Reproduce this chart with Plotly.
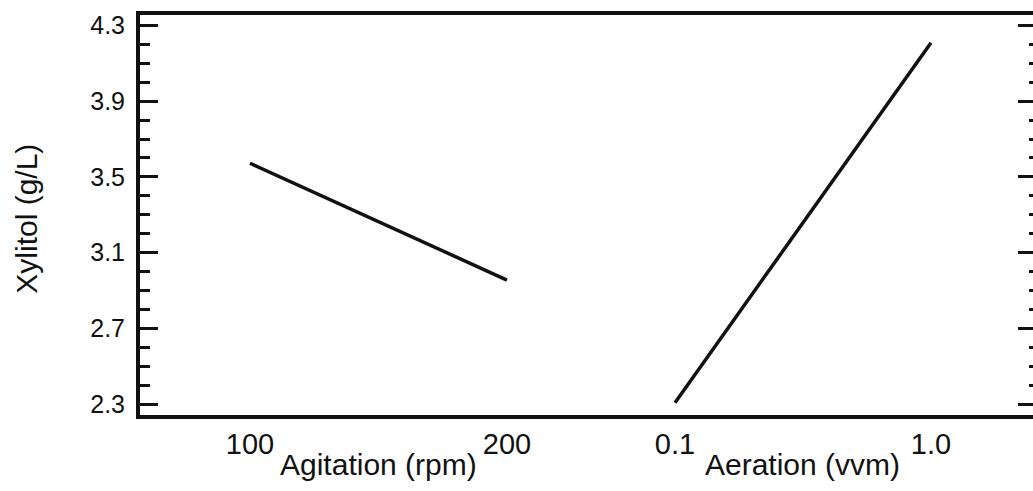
import plotly.graph_objects as go

# Main effects on xylitol concentration
agitation_rpm = [100, 200]
xylitol_agitation = [3.572, 2.955]

aeration_vvm = [0.1, 1.0]
xylitol_aeration = [2.307, 4.209]

y_ticks = [2.3, 2.7, 3.1, 3.5, 3.9, 4.3]
y_title = "Xylitol (g/L)"
x_titles = ["Agitation (rpm)", "Aeration (vvm)"]

FONT = "Liberation Sans, Arial, sans-serif"
INK = "#111111"
Y_RANGE = [2.2419, 4.3555]
SPLIT = 0.505

fig = go.Figure()
fig.add_trace(go.Scatter(x=agitation_rpm, y=xylitol_agitation, mode="lines",
                         line=dict(color=INK, width=3.5), xaxis="x", yaxis="y",
                         showlegend=False, hoverinfo="skip"))
fig.add_trace(go.Scatter(x=aeration_vvm, y=xylitol_aeration, mode="lines",
                         line=dict(color=INK, width=3.5), xaxis="x2", yaxis="y",
                         showlegend=False, hoverinfo="skip"))
# carrier for the right-hand tick column
fig.add_trace(go.Scatter(x=[aeration_vvm[0]], y=[xylitol_aeration[0]], mode="lines",
                         line=dict(width=0), xaxis="x2", yaxis="y2",
                         showlegend=False, hoverinfo="skip", opacity=0))

xcommon = dict(showgrid=False, zeroline=False, showline=True, linecolor=INK,
               linewidth=4, mirror=True, ticks="", tickmode="array",
               tickfont=dict(family=FONT, size=29, color=INK), ticklabelstandoff=0)

fig.update_layout(
    width=1033, height=491,
    margin=dict(l=140, r=0, t=15, b=76),
    paper_bgcolor="white", plot_bgcolor="white",
    xaxis=dict(domain=[0, SPLIT], range=[57.2, 232.7], anchor="y",
               tickvals=agitation_rpm, ticktext=["100", "200"], **xcommon),
    xaxis2=dict(domain=[SPLIT, 1], range=[-0.1954, 1.3586], anchor="y",
                tickvals=aeration_vvm, ticktext=["0.1", "1.0"], **xcommon),
    yaxis=dict(range=Y_RANGE, tickvals=y_ticks, ticktext=[f"{v:.1f}" for v in y_ticks],
               showgrid=False, zeroline=False, showline=True, linecolor=INK, linewidth=4,
               ticks="inside", ticklen=18, tickwidth=3, tickcolor=INK,
               tickfont=dict(family=FONT, size=25, color=INK), ticklabelstandoff=6,
               minor=dict(dtick=0.1, tick0=2.3, ticks="inside", ticklen=10,
                          tickwidth=3, tickcolor=INK),
               anchor="x"),
    yaxis2=dict(range=Y_RANGE, overlaying="y", side="right", anchor="x2",
                tickvals=y_ticks, showticklabels=False, showgrid=False, zeroline=False,
                showline=False, ticks="inside", ticklen=15, tickwidth=3, tickcolor=INK,
                minor=dict(dtick=0.1, tick0=2.3, ticks="inside", ticklen=4,
                           tickwidth=3, tickcolor=INK)),
)

# axis titles centred under each factor's span
for xs, ref, title in ((agitation_rpm, "x", x_titles[0]), (aeration_vvm, "x2", x_titles[1])):
    fig.add_annotation(text=title, x=sum(xs) / 2, xref=ref,
                       y=0, yref="paper", yanchor="top", yshift=-31, showarrow=False,
                       font=dict(family=FONT, size=30, color=INK))
fig.add_annotation(text=y_title, textangle=-90, x=-0.128, xref="paper",
                   xanchor="center", y=0.49, yref="paper", showarrow=False,
                   font=dict(family=FONT, size=30, color=INK))

fig.write_html("out.html")
